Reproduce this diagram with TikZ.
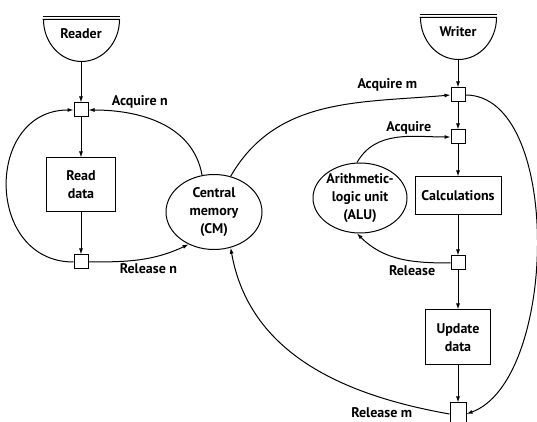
\documentclass[tikz,border=0pt]{standalone}
\usepackage{fontspec}
\setmainfont{PT Sans}
\usetikzlibrary{arrows.meta,shapes.geometric}

\begin{document}
\begin{tikzpicture}[x=1pt, y=1pt, line width=1pt,
  every node/.style={font=\bfseries\fontsize{14}{18}\selectfont},
  lock/.style={draw, fill=white, minimum size=14pt, inner sep=0pt},
  task/.style={draw, align=center, inner sep=2pt},
  unit/.style={draw, ellipse, align=center, inner sep=-5pt},
  flow/.style={-{Latex[length=6pt,width=4pt]}},
  bowl/.style={minimum width=76pt, minimum height=45pt, inner sep=0pt}]
  \useasboundingbox (0,0) rectangle (537,422);
  % Reader side
  \node[bowl] (reader) at (81,382.5) {};
  \draw (reader.north west) -- (reader.north east);
  \draw ([yshift=-3pt]reader.north west) -- ([yshift=-3pt]reader.north east)
    arc[start angle=0, end angle=-180, x radius=38pt, y radius=42pt];
  \node (readerlbl) at ([yshift=-17pt]reader.north) {Reader};
  \node[lock] (an) at (81,312) {};
  \node[task, minimum width=69pt, minimum height=54pt] (read) at (81,237) {Read\\data};
  \node[lock] (rn) at (81,160) {};
  \node[anchor=west] (anlbl) at (108,320) {Acquire n};
  \node[anchor=west] (rnlbl) at (116,153) {Release n};
  % Central memory
  \node[unit, minimum width=96pt, minimum height=75pt] (cm) at (214,210) {Central\\memory\\(CM)};
  % Writer side
  \node[bowl] (writer) at (458,384.5) {};
  \draw (writer.north west) -- (writer.north east);
  \draw ([yshift=-3pt]writer.north west) -- ([yshift=-3pt]writer.north east)
    arc[start angle=0, end angle=-180, x radius=38pt, y radius=42pt];
  \node (writerlbl) at ([yshift=-17pt]writer.north) {Writer};
  \node[lock] (am) at (458,327) {};
  \node[lock] (aq) at (458,285) {};
  \node[unit, minimum width=94pt, minimum height=70pt] (alu) at (360,224) {Arithmetic-\\logic unit\\(ALU)};
  \node[task, minimum width=86pt, minimum height=38pt] (calc) at (458,226) {Calculations};
  \node[lock] (rl) at (458,159) {};
  \node[task, minimum width=65pt, minimum height=55pt] (upd) at (458,84.5) {Update\\data};
  \node[lock, minimum width=16pt, minimum height=22pt] (rm) at (458,8) {};
  \node[anchor=east] (amlbl) at (421,337) {Acquire m};
  \node[anchor=east] (aqlbl) at (435,294) {Acquire};
  \node[anchor=east] (rllbl) at (439,151) {Release};
  \node[anchor=east] (rmlbl) at (416,9) {Release m};
  % Reader flow
  \draw[flow] (reader) -- (an);
  \draw[flow] (an) -- (read);
  \draw[flow] (read) -- (rn);
  \draw[flow] (rn.west) to[out=180, in=180, looseness=1.5] (an.west);
  \draw[flow] (cm.108) to[out=100, in=0] (an.east);
  \draw[flow] (rn.east) to[out=0, in=205] (cm.232);
  % Writer flow
  \draw[flow] (writer) -- (am);
  \draw[flow] (am) -- (aq);
  \draw[flow] (aq) -- (calc);
  \draw[flow] (calc) -- (rl);
  \draw[flow] (rl) -- (upd);
  \draw[flow] (upd) -- (rm);
  \draw[flow] (cm.65) to[out=60, in=185] (am.west);
  \draw[flow] (am.east) to[out=0, in=20, looseness=0.78] (rm.east);
  \draw[flow] (rm.west) to[out=170, in=-80] (cm.295);
  % ALU loop
  \draw[flow] (alu.95) to[out=60, in=180] (aq.west);
  \draw[flow] (rl.west) to[out=180, in=-45] (alu.265);
\end{tikzpicture}
\end{document}
